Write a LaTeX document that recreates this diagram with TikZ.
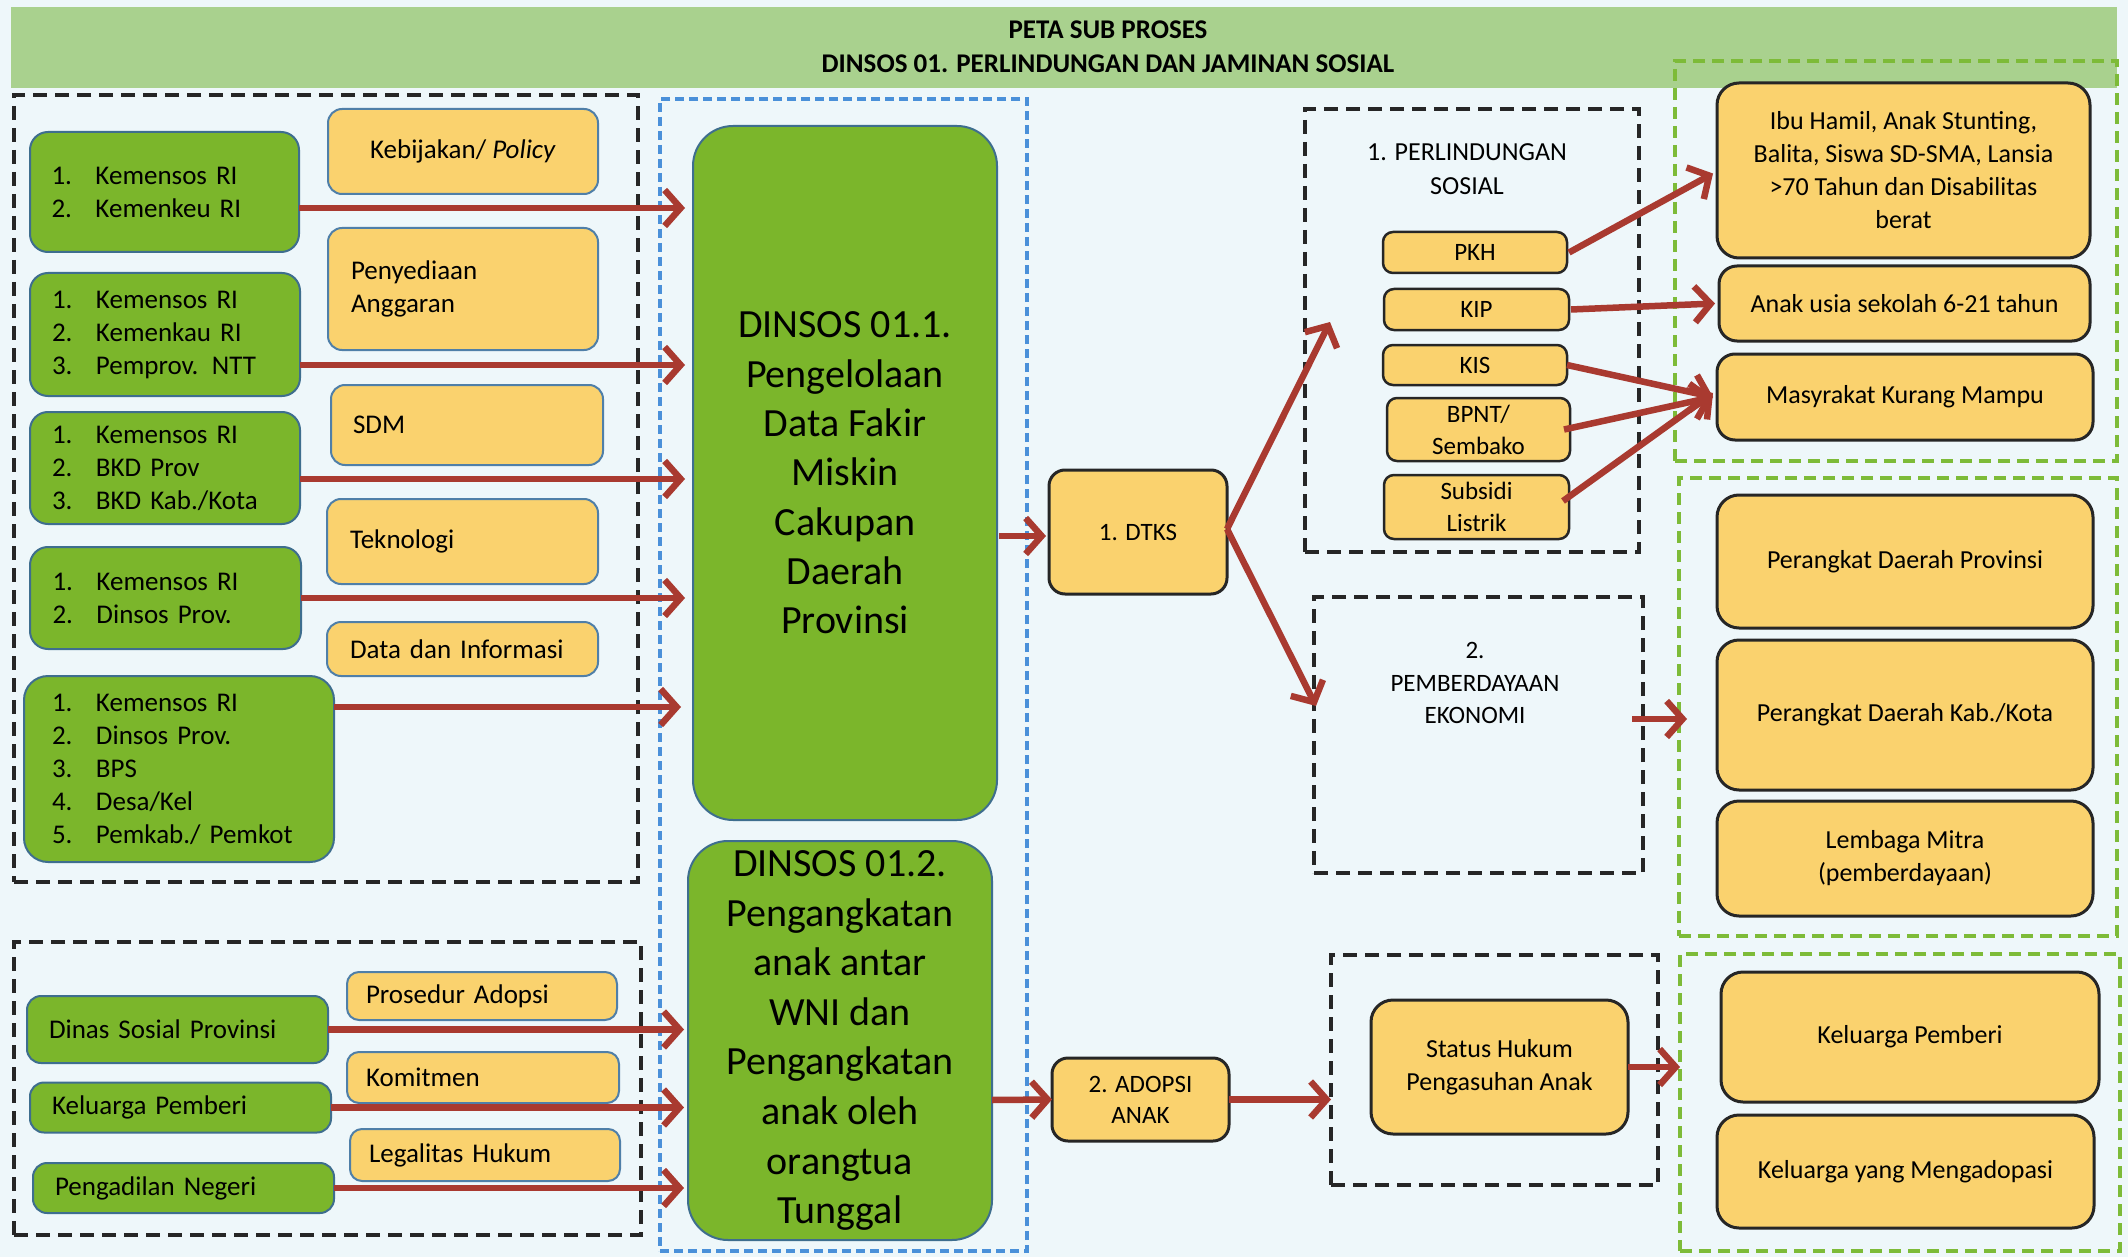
\documentclass[tikz,border=0pt]{standalone}
\usepackage{fontspec}
\setmainfont{Carlito}
\usetikzlibrary{arrows.meta,calc}
\definecolor{bgc}{HTML}{EEF7FA}
\definecolor{titlec}{HTML}{A9D18E}
\definecolor{gfill}{HTML}{7BB62B}
\definecolor{gline}{HTML}{3E6E8E}
\definecolor{ofill}{HTML}{FAD26E}
\definecolor{oline}{HTML}{4F7FA8}
\definecolor{arrc}{HTML}{A93A30}
\definecolor{bline}{HTML}{4A90D9}
\definecolor{gdl}{HTML}{7DBB38}
\newcommand\bx[7]{\node[#1, minimum width=#5pt, minimum height=#6pt] (#2) at (#3,#4) {#7};}
\newcommand\li[2]{\makebox[44pt][l]{#1}#2}
\begin{document}
\begin{tikzpicture}[x=1pt,y=-1pt,
  every node/.style={inner sep=0pt, outer sep=0pt},
  gbox/.style={draw=gline, fill=gfill, line width=2pt, rounded corners=18pt, align=left, font=\fontsize{27}{33}\selectfont},
  obox/.style={draw=oline, fill=ofill, line width=2pt, rounded corners=14pt, align=left, font=\fontsize{27}{33}\selectfont},
  rbox/.style={draw=black!85, fill=ofill, line width=3pt, rounded corners=22pt, align=center, font=\fontsize{26}{33}\selectfont},
  sbox/.style={draw=black!85, fill=ofill, line width=2.5pt, rounded corners=10pt, align=center, font=\fontsize{25}{32}\selectfont},
  bigbox/.style={draw=gline, fill=gfill, line width=2pt, rounded corners=40pt, align=center},
  kdash/.style={draw=black!85, line width=4.5pt, dash pattern=on 14pt off 8pt},
  bdash/.style={draw=bline, line width=3.5pt, dash pattern=on 9pt off 5pt},
  gdash/.style={draw=gdl, line width=4pt, dash pattern=on 12pt off 7pt},
  arr/.style={draw=arrc, line width=6.5pt, -{Straight Barb[length=16pt,width=36pt]}},
]
\useasboundingbox (0,0) rectangle (2128,1257);
\fill[bgc] (0,0) rectangle (2128,1257);
% title band
\node[fill=titlec, minimum width=2106pt, minimum height=81pt] (band) at (1064,47.5) {};
\node[font=\bfseries\fontsize{27}{34}\selectfont, align=center] (title) at (1108,47) {PETA SUB PROSES\\DINSOS 01. PERLINDUNGAN DAN JAMINAN SOSIAL};

% dashed frames
\node[kdash, minimum width=624pt, minimum height=787pt] (lf1) at (326,488.5) {};
\node[kdash, minimum width=627pt, minimum height=293pt] (lf2) at (327.5,1088.5) {};
\node[bdash, minimum width=367pt, minimum height=1152pt] (bf) at (843.5,675) {};
\node[kdash, minimum width=334pt, minimum height=443pt] (ps) at (1472,330.5) {};
\node[kdash, minimum width=329pt, minimum height=276pt] (pe) at (1478.5,735) {};
\node[kdash, minimum width=327pt, minimum height=230pt] (hk) at (1494.5,1070) {};
\node[gdash, minimum width=442pt, minimum height=400pt] (gf1) at (1896,261) {};
\node[gdash, minimum width=438pt, minimum height=458pt] (gf2) at (1898,707) {};
\node[gdash, minimum width=440pt, minimum height=297pt] (gf3) at (1900,1102.5) {};

% left green boxes
\bx{gbox,text width=226pt}{g1}{164.5}{192}{269}{120}{\li{1.}{Kemensos RI}\\\li{2.}{Kemenkeu RI}}
\bx{gbox,text width=226pt}{g2}{165}{334.5}{270}{123}{\li{1.}{Kemensos RI}\\\li{2.}{Kemenkau RI}\\\li{3.}{Pemprov. NTT}}
\bx{gbox,text width=226pt}{g3}{165}{468}{270}{112}{\li{1.}{Kemensos RI}\\\li{2.}{BKD Prov}\\\li{3.}{BKD Kab./Kota}}
\bx{gbox,text width=226pt}{g4}{165.5}{598}{271}{102}{\li{1.}{Kemensos RI}\\\li{2.}{Dinsos Prov.}}
\bx{gbox,text width=254pt,rounded corners=24pt}{g5}{179}{769}{310}{186}{\li{1.}{Kemensos RI}\\\li{2.}{Dinsos Prov.}\\\li{3.}{BPS}\\\li{4.}{Desa/Kel}\\\li{5.}{Pemkab./ Pemkot}}

% left orange boxes
\bx{obox,align=center}{o1}{463}{151.5}{270}{85}{Kebijakan/ \textit{Policy}}
\bx{obox,text width=224pt}{o2}{463}{289}{270}{122}{Penyediaan\\Anggaran}
\bx{obox,text width=228pt}{o3}{467}{425}{272}{80}{SDM}
\bx{obox,text width=225pt}{o4}{462.5}{541.5}{271}{85}{Teknologi}
\bx{obox,text width=225pt}{o5}{462.5}{649}{271}{54}{Data dan Informasi}

% bottom-left boxes
\bx{gbox,text width=257pt,rounded corners=14pt}{b1}{177.5}{1029.5}{301}{67}{Dinas Sosial Provinsi}
\bx{gbox,text width=257pt,rounded corners=14pt}{b2}{180.5}{1107.5}{301}{50}{Keluarga Pemberi}
\bx{gbox,text width=257pt,rounded corners=14pt}{b3}{183.5}{1188}{301}{50}{Pengadilan Negeri}
\bx{obox,text width=232pt,rounded corners=12pt}{p1}{482}{996}{270}{48}{Prosedur Adopsi}
\bx{obox,text width=234pt,rounded corners=12pt}{p2}{483}{1077.5}{272}{51}{Komitmen}
\bx{obox,text width=232pt,rounded corners=12pt}{p3}{485}{1155}{270}{52}{Legalitas Hukum}

% big process boxes
\bx{bigbox,font=\fontsize{40}{49.3}\selectfont}{d1}{845}{473}{304}{694}{DINSOS 01.1.\\Pengelolaan\\Data Fakir\\Miskin\\Cakupan\\Daerah\\Provinsi}
\bx{bigbox,font=\fontsize{40}{49.6}\selectfont}{d2}{840}{1040.5}{304}{399}{DINSOS 01.2.\\Pengangkatan\\anak antar\\WNI dan\\Pengangkatan\\anak oleh\\orangtua\\Tunggal}

% middle boxes
\bx{rbox,font=\fontsize{25}{31}\selectfont,rounded corners=16pt}{dtks}{1138}{532}{178}{124}{1. DTKS}
\bx{rbox,font=\fontsize{25}{31}\selectfont,rounded corners=16pt}{adopsi}{1140.5}{1099.5}{177}{83}{2. ADOPSI\\ANAK}

% perlindungan sosial
\node[font=\fontsize{26}{34}\selectfont, align=center] (pst) at (1467,169) {1. PERLINDUNGAN\\SOSIAL};
\bx{sbox}{pkh}{1475}{252.5}{184}{41}{PKH}
\bx{sbox}{kip}{1476.5}{309.5}{185}{41}{KIP}
\bx{sbox}{kis}{1475}{365}{184}{40}{KIS}
\bx{sbox}{bpnt}{1478.5}{429.5}{183}{63}{BPNT/\\Sembako}
\bx{sbox}{subs}{1476.5}{507}{185}{64}{Subsidi\\Listrik}

% pemberdayaan ekonomi
\node[font=\fontsize{25}{32.5}\selectfont, align=center] (pet) at (1475,683) {2.\\PEMBERDAYAAN\\EKONOMI};

% status hukum
\bx{rbox,font=\fontsize{26}{33}\selectfont}{sh}{1499.5}{1067}{257}{134}{Status Hukum\\Pengasuhan Anak}

% right boxes
\bx{rbox}{ga}{1903.5}{170.5}{373}{175}{Ibu Hamil, Anak Stunting,\\Balita, Siswa SD-SMA, Lansia\\>70 Tahun dan Disabilitas\\berat}
\bx{rbox,rounded corners=18pt}{gb}{1904.5}{303.5}{371}{75}{Anak usia sekolah 6-21 tahun}
\bx{rbox,rounded corners=18pt}{gc}{1905}{397}{376}{86}{Masyrakat Kurang Mampu}
\bx{rbox}{pdp}{1905}{561.5}{376}{133}{Perangkat Daerah Provinsi}
\bx{rbox}{pdk}{1905}{715}{376}{150}{Perangkat Daerah Kab./Kota}
\bx{rbox}{lm}{1905}{858.5}{376}{115}{Lembaga Mitra\\(pemberdayaan)}
\bx{rbox}{kp}{1910}{1037}{378}{130}{Keluarga Pemberi}
\bx{rbox}{km}{1905.5}{1171.5}{377}{113}{Keluarga yang Mengadopasi}

% arrows: left to D1
\draw[arr] ($(g1.east)+(0,16)$) -- ($(d1.west |- g1.east)+(-8,16)$);
\draw[arr] ($(g2.east)+(0,30.5)$) -- ($(d1.west |- g2.east)+(-8,30.5)$);
\draw[arr] ($(g3.east)+(0,11)$) -- ($(d1.west |- g3.east)+(-8,11)$);
\draw[arr] (g4.east) -- ($(d1.west |- g4.east)+(-8,0)$);
\draw[arr] ($(g5.north east)+(0,31)$) -- ($(d1.west |- g5.north east)+(-12,31)$);
% arrows: bottom-left to D2
\draw[arr] (b1.east) -- ($(d2.west |- b1.east)+(-4,0)$);
\draw[arr] (b2.east) -- ($(d2.west |- b2.east)+(-4,0)$);
\draw[arr] (b3.east) -- ($(d2.west |- b3.east)+(-4,0)$);
% D1 -> DTKS, D2 -> ADOPSI
\draw[arr] ($(d1.east)+(2,63)$) -- ($(dtks.west)+(-3,4)$);
\draw[arr] ($(d2.east)+(0,59.5)$) -- (adopsi.west);
% DTKS -> PS, PE
\draw[arr] ($(dtks.east)+(0,-3)$) -- ($(ps.west)+(25,-8.5)$);
\draw[arr] ($(dtks.east)+(0,-3)$) -- ($(pe.west)+(2,-29)$);
% PS items -> targets
\draw[arr] ($(pkh.east)+(2,0)$) -- ($(ga.west)+(-4,3)$);
\draw[arr] ($(kip.east)+(2,0)$) -- ($(gb.west)+(-4,0)$);
\draw[arr] ($(kis.east)+(0,0)$) -- ($(gc.west)+(-4,0)$);
\draw[arr] ($(bpnt.east)+(-6,0)$) -- ($(gc.west)+(-4,0)$);
\draw[arr] ($(subs.east)+(-6,-6)$) -- ($(gc.west)+(-4,-4)$);
% PE -> green frame 2
\draw[arr] ($(pe.east |- pdk.west)+(-11,4)$) -- ($(gf2.west |- pdk.west)+(8,4)$);
% ADOPSI -> HK, SH -> green frame 3
\draw[arr] (adopsi.east) -- (hk.west |- adopsi.east);
\draw[arr] (sh.east) -- (gf3.west |- sh.east);
\end{tikzpicture}
\end{document}
